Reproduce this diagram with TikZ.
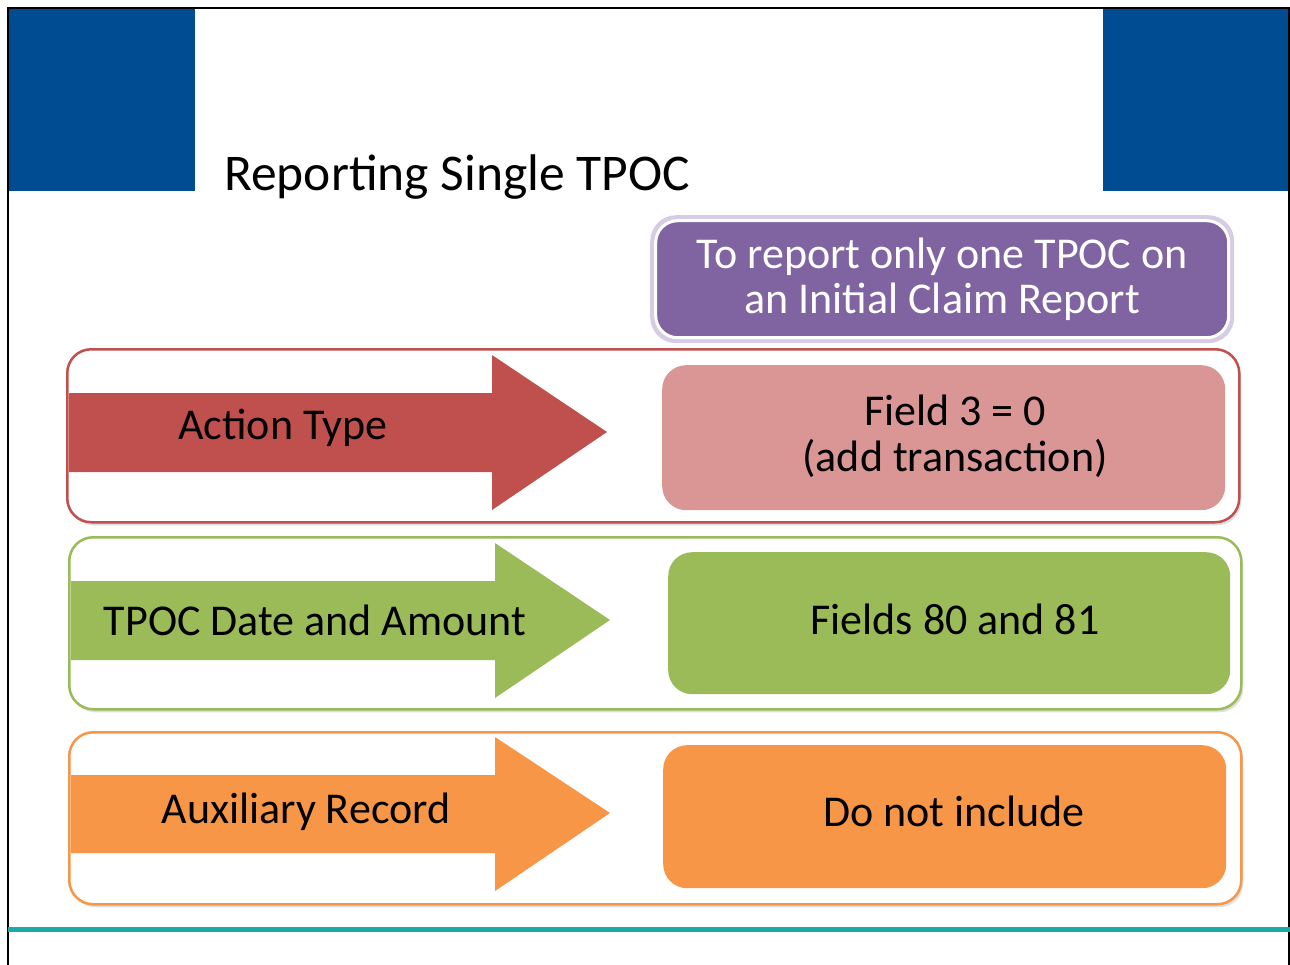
\documentclass[tikz,border=0pt]{standalone}
\usepackage{fontspec}
\setmainfont{Carlito}
\usetikzlibrary{shadows}
\definecolor{slideblue}{RGB}{0,76,147}
\definecolor{ored}{RGB}{192,80,77}
\definecolor{olred}{RGB}{217,150,148}
\definecolor{ogreen}{RGB}{155,187,89}
\definecolor{oorange}{RGB}{247,150,70}
\definecolor{opurple}{RGB}{128,100,162}
\definecolor{oglow}{RGB}{214,204,228}
\definecolor{teal}{RGB}{27,170,168}
\tikzset{
  rowbox/.style={draw=#1, line width=2.5pt, fill=white, rounded corners=24pt,
    anchor=north west, inner sep=0pt,
    drop shadow={shadow xshift=2pt, shadow yshift=-3pt, opacity=0.25}},
  valbox/.style={fill=#1, rounded corners=24pt, anchor=north west, inner sep=0pt},
  txt/.style={font=\fontsize{44}{46}\selectfont, align=center, text=black},
}
\begin{document}
\begin{tikzpicture}[x=1pt,y=-1pt]
\useasboundingbox (0,0) rectangle (1290,964);
\fill[white] (0,0) rectangle (1290,964);
% header blocks
\fill[slideblue] (8,8) rectangle (195,191);
\fill[slideblue] (1103,8) rectangle (1290,191);
\draw[black, line width=1.2pt] (8,966) -- (8,8) -- (1289,8) -- (1289,966);
\node[anchor=base west, font=\fontsize{51.5}{56}\selectfont, inner sep=0pt] (title) at (224,190) {Reporting Single TPOC};
% purple header box
\node[fill=oglow, rounded corners=26pt, anchor=north west, minimum width=584pt, minimum height=128pt, inner sep=0pt] (glow) at (650,215) {};
\node[fill=opurple, draw=white, line width=3pt, rounded corners=22pt, minimum width=573pt, minimum height=117pt, inner sep=0pt, text=white, align=center, font=\fontsize{44}{45}\selectfont] (head) at (glow.center) {To report only one TPOC on\\an Initial Claim Report};
% row 1
\node[rowbox=ored, minimum width=1172pt, minimum height=173pt] (row1) at (66,348) {};
\fill[ored] (69,393) -- (492,393) -- (492,355) -- (607,432) -- (492,510) -- (492,472) -- (69,472) -- cycle;
\node[txt] (a1) at (283,428) {Action Type};
\node[valbox=olred, minimum width=563pt, minimum height=145pt] (v1) at (662,365) {};
\node[txt] (t1) at (955,436) {Field 3 = 0\\(add transaction)};
% row 2
\node[rowbox=ogreen, minimum width=1172pt, minimum height=172pt] (row2) at (68,536) {};
\fill[ogreen] (71,581) -- (495,581) -- (495,543) -- (610,620) -- (495,698) -- (495,660) -- (71,660) -- cycle;
\node[txt] (a2) at (315,620) {TPOC Date and Amount};
\node[valbox=ogreen, minimum width=562pt, minimum height=142pt] (v2) at (668,552) {};
\node[txt] (t2) at (955,619) {Fields 80 and 81};
% row 3
\node[rowbox=oorange, minimum width=1172pt, minimum height=172pt] (row3) at (68,731) {};
\fill[oorange] (71,775) -- (495,775) -- (495,737) -- (610,813) -- (495,891) -- (495,853) -- (71,853) -- cycle;
\node[txt] (a3) at (306,812) {Auxiliary Record};
\node[valbox=oorange, minimum width=563pt, minimum height=143pt] (v3) at (663,745) {};
\node[txt] (t3) at (954,811) {Do not include};
% bottom line
\draw[teal, line width=5pt] (8,929) -- (1290,929);
\end{tikzpicture}
\end{document}
